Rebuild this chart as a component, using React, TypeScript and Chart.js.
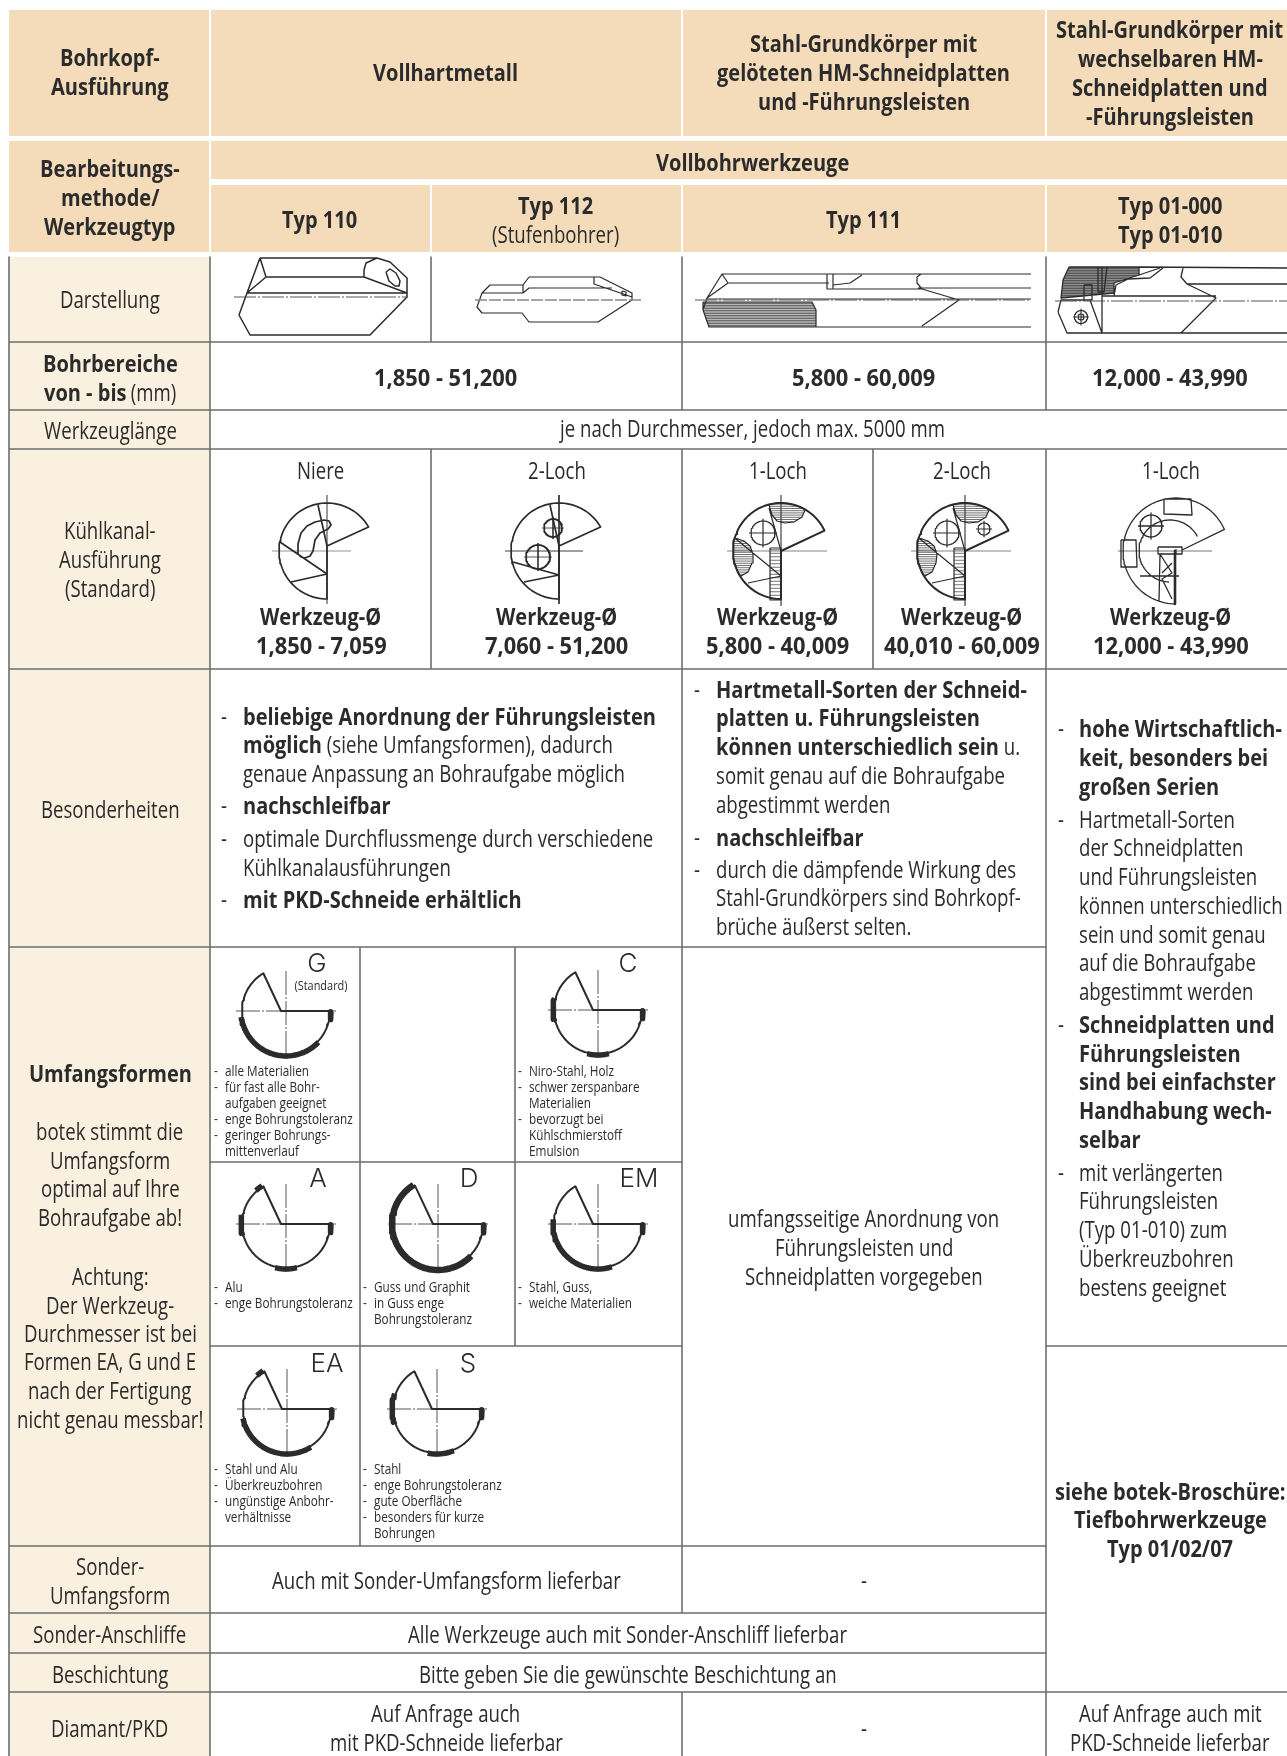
import React, { useEffect, useRef } from "react";
import { Chart, registerables } from "chart.js";
Chart.register(...registerables);

type Pt = [number, number];

// ---------- table structure ----------
const colEdges = [9, 210, 431, 682, 873, 1046, 1287];
const formColEdges = [360, 515];
const rowEdges = [257, 342, 410, 449, 669, 947, 1546, 1613, 1653, 1692, 1756];
const formRowEdges = [1162, 1346];

// ---------- text ----------
const headBohrkopf = ["Bohrkopf-", "Ausführung"];
const headVoll = ["Vollhartmetall"];
const headGeloetet = ["Stahl-Grundkörper mit", "gelöteten HM-Schneidplatten", "und -Führungsleisten"];
const headWechsel = ["Stahl-Grundkörper mit", "wechselbaren HM-", "Schneidplatten und", "-Führungsleisten"];
const headBearb = ["Bearbeitungs-", "methode/", "Werkzeugtyp"];
const headVollbohr = ["Vollbohrwerkzeuge"];
const typ110 = ["Typ 110"];
const typ112 = ["Typ 112"];
const typ112Sub = ["(Stufenbohrer)"];
const typ111 = ["Typ 111"];
const typ01 = ["Typ 01-000", "Typ 01-010"];
const labelDarstellung = ["Darstellung"];
const labelBereich = ["**Bohrbereiche**", "**von - bis** (mm)"];
const rangeValues = ["1,850 - 51,200", "5,800 - 60,009", "12,000 - 43,990"];
const labelLaenge = ["Werkzeuglänge"];
const laengeText = ["je nach Durchmesser, jedoch max. 5000 mm"];
const labelKuehl = ["Kühlkanal-", "Ausführung", "(Standard)"];
const kuehlTypes = ["Niere", "2-Loch", "1-Loch", "2-Loch", "1-Loch"];
const kuehlRanges = ["1,850 - 7,059", "7,060 - 51,200", "5,800 - 40,009", "40,010 - 60,009", "12,000 - 43,990"];
const labelBesonder = ["Besonderheiten"];
const besonderA = [
  "- **beliebige Anordnung der Führungsleisten**",
  "**möglich** (siehe Umfangsformen), dadurch",
  "genaue Anpassung an Bohraufgabe möglich",
  "- **nachschleifbar**",
  "- optimale Durchflussmenge durch verschiedene",
  "Kühlkanalausführungen",
  "- **mit PKD-Schneide erhältlich**",
];
const besonderB = [
  "- **Hartmetall-Sorten der Schneid-**",
  "**platten u. Führungsleisten**",
  "**können unterschiedlich sein** u.",
  "somit genau auf die Bohraufgabe",
  "abgestimmt werden",
  "- **nachschleifbar**",
  "- durch die dämpfende Wirkung des",
  "Stahl-Grundkörpers sind Bohrkopf-",
  "brüche äußerst selten.",
];
const besonderC = [
  "- **hohe Wirtschaftlich-**",
  "**keit, besonders bei**",
  "**großen Serien**",
  "- Hartmetall-Sorten",
  "der Schneidplatten",
  "und Führungsleisten",
  "können unterschiedlich",
  "sein und somit genau",
  "auf die Bohraufgabe",
  "abgestimmt werden",
  "- **Schneidplatten und**",
  "**Führungsleisten**",
  "**sind bei einfachster**",
  "**Handhabung wech-**",
  "**selbar**",
  "- mit verlängerten",
  "Führungsleisten",
  "(Typ 01-010) zum",
  "Überkreuzbohren",
  "bestens geeignet",
];
const labelUmfang = [
  "**Umfangsformen**",
  "botek stimmt die",
  "Umfangsform",
  "optimal auf Ihre",
  "Bohraufgabe ab!",
  "Achtung:",
  "Der Werkzeug-",
  "Durchmesser ist bei",
  "Formen EA, G und E",
  "nach der Fertigung",
  "nicht genau messbar!",
];
const formG = ["- alle Materialien", "- für fast alle Bohr-", "aufgaben geeignet", "- enge Bohrungstoleranz", "- geringer Bohrungs-", "mittenverlauf"];
const formC = ["- Niro-Stahl, Holz", "- schwer zerspanbare", "Materialien", "- bevorzugt bei", "Kühlschmierstoff", "Emulsion"];
const formA = ["- Alu", "- enge Bohrungstoleranz"];
const formD = ["- Guss und Graphit", "- in Guss enge", "Bohrungstoleranz"];
const formEM = ["- Stahl, Guss,", "- weiche Materialien"];
const formEA = ["- Stahl und Alu", "- Überkreuzbohren", "- ungünstige Anbohr-", "verhältnisse"];
const formS = ["- Stahl", "- enge Bohrungstoleranz", "- gute Oberfläche", "- besonders für kurze", "Bohrungen"];
const umfangMitte = ["umfangsseitige Anordnung von", "Führungsleisten und", "Schneidplatten vorgegeben"];
const siehe = ["siehe botek-Broschüre:", "Tiefbohrwerkzeuge", "Typ 01/02/07"];
const labelSonder = ["Sonder-", "Umfangsform"];
const sonderText = ["Auch mit Sonder-Umfangsform lieferbar"];
const labelAnschliff = ["Sonder-Anschliffe"];
const anschliffText = ["Alle Werkzeuge auch mit Sonder-Anschliff lieferbar"];
const labelBeschicht = ["Beschichtung"];
const beschichtText = ["Bitte geben Sie die gewünschte Beschichtung an"];
const labelDiamant = ["Diamant/PKD"];
const diamantA = ["Auf Anfrage auch", "mit PKD-Schneide lieferbar"];
const diamantB = ["Auf Anfrage auch mit", "PKD-Schneide lieferbar"];

// ---------- margin-form wear bands, in degrees round the drill section ----------
const bandsG: Pt[] = [[44, 172]];
const bandsC: Pt[] = [[165, 195], [76, 104]];
const bandsA: Pt[] = [[165, 192], [76, 104], [228, 238]];
const bandsD: Pt[] = [[44, 238]];
const bandsEM: Pt[] = [[72, 186]];
const bandsEA: Pt[] = [[58, 168], [228, 238]];
const bandsS: Pt[] = [[160, 200], [68, 102]];

// ---------- tool profiles ----------
const tool110Outline: Pt[] = [[260, 258], [377, 258], [390, 262], [407, 278], [407, 297], [370, 335], [250, 335], [239, 315], [247, 293], [260, 258]];
const tool110Inner: Pt[][] = [
  [[247, 293], [407, 293]],
  [[260, 258], [266, 277], [247, 293]],
  [[266, 277], [364, 277], [407, 293]],
  [[377, 258], [366, 263], [364, 270], [364, 277]],
  [[386, 272], [390, 269], [396, 273], [400, 281], [399, 286], [395, 286], [389, 281], [386, 272]],
];
const tool112Outline: Pt[] = [[529, 277], [600, 277], [632, 293], [632, 300], [598, 322], [529, 322], [522, 313], [482, 313], [477, 307], [482, 293], [490, 285], [523, 285], [529, 277]];
const tool112Inner: Pt[][] = [
  [[482, 293], [523, 293], [529, 288], [612, 288]],
  [[594, 277], [594, 284], [632, 297]],
  [[523, 285], [523, 293]],
  [[622, 291], [626, 292], [626, 296], [622, 295], [622, 291]],
];
const tool111Outline: Pt[] = [[1031, 274], [722, 274], [707, 298], [703, 310], [709, 327], [1031, 327]];
const tool111Inner: Pt[][] = [
  [[707, 299], [959, 299], [1031, 299]],
  [[728, 283], [829, 283]],
  [[827, 274], [827, 289], [833, 289], [833, 274]],
  [[833, 289], [922, 289], [959, 300], [922, 326]],
  [[722, 274], [728, 283], [707, 298]],
  [[833, 285], [850, 283], [862, 275]],
  [[922, 289], [917, 283], [917, 277], [921, 274]],
  [[918, 288], [1031, 288]],
];
const tool111Band: Pt[] = [[703, 302], [812, 302], [816, 310], [816, 327], [709, 327], [703, 310], [703, 302]];
const tool01Outline: Pt[][] = [
  [[1139, 267], [1287, 268]],
  [[1067, 333], [1287, 333]],
  [[1187, 284], [1287, 284]],
  [[1183, 268], [1181, 277], [1187, 284], [1216, 298], [1181, 333]],
  [[1102, 296], [1216, 296]],
  [[1102, 267], [1102, 333]],
  [[1058, 312], [1061, 300], [1090, 300], [1102, 333], [1067, 333], [1058, 312]],
  [[1139, 275], [1160, 268]],
  [[1114, 296], [1116, 285], [1128, 279], [1150, 278], [1163, 268]],
  [[1098, 267], [1098, 292], [1104, 292], [1107, 267]],
  [[1084, 285], [1092, 285], [1092, 300], [1084, 300], [1084, 285]],
];
const tool01Block: Pt[] = [[1069, 267], [1139, 267], [1139, 275], [1114, 283], [1114, 293], [1061, 298], [1063, 280], [1069, 267]];

// ---------- coolant sections, relative to the section centre ----------
const niereLines: Pt[][] = [
  [[-9, -46], [0, -5]],
  [[-47, -9], [0, 23]],
  [[-36, 31], [0, 23]],
];
const niereKidney: Pt[] = [[-29, 3], [-29, -7], [-26, -18], [-20, -25], [-12, -29], [-3, -31], [2, -30], [4, -26], [1, -22], [-7, -18], [-12, -11], [-14, 0], [-17, 5], [-22, 7], [-26, 6], [-29, 3]];
const loch2Lines: Pt[][] = [
  [[-9, -46], [0, -5]],
  [[-46, 11], [0, 24]],
  [[-35, 31], [0, 24]],
];
const loch1Lines: Pt[][] = [
  [[-12, -43], [0, 0]],
  [[-45, -12], [0, 25]],
  [[-33, 32], [0, 25]],
];
const lensTopInner: Pt[] = [[24, -41], [21, -34], [13, -29], [4, -28], [-4, -30], [-9, -36], [-12, -46]];
const lensLeftInner: Pt[] = [[-40, 25], [-33, 21], [-29, 12], [-28, 3], [-31, -5], [-37, -10], [-46, -13]];
const platteLines: Pt[][] = [
  [[-12, -52], [15, -52], [16, -36], [-12, -37], [-12, -52]],
  [[-55, -11], [-40, -11], [-39, 16], [-55, 16], [-55, -11]],
  [[-18, -4], [6, -4], [6, 3], [-18, 3], [-18, -4]],
  [[-16, 3], [-17, 50]],
  [[-16, 3], [-4, 22], [-14, 28], [-4, 48]],
  [[-4, 12], [-14, 22]],
  [[-36, 25], [3, 25]],
];
const platteBar: Pt[] = [[-1, 0], [-1, 53]];

// ---------- geometry helpers ----------
const arc = (cx: number, cy: number, r: number, a0: number, a1: number): Pt[] => {
  const out: Pt[] = [];
  const n = Math.max(2, Math.ceil(Math.abs(a1 - a0) / 3));
  for (let i = 0; i <= n; i++) {
    const a = ((a0 + ((a1 - a0) * i) / n) * Math.PI) / 180;
    out.push([cx + r * Math.cos(a), cy + r * Math.sin(a)]);
  }
  return out;
};
const shift = (p: Pt[], x: number, y: number): Pt[] => p.map(([a, b]) => [a + x, b + y] as Pt);

const INK = "#2b2b2b";
const GRID = "#6e6e6e";
const HEAD = "#f4dcba";
const SIDE = "#faf0e0";

type DS = any;
const stroke = (groups: Pt[][], width: number, color = INK, dash: number[] = []): DS => {
  const data: { x: number; y: number }[] = [];
  groups.forEach((g) => {
    g.forEach(([x, y]) => data.push({ x, y }));
    data.push({ x: NaN, y: NaN });
  });
  return { data, showLine: true, borderWidth: width, borderColor: color, borderDash: dash, pointRadius: 0, fill: false, tension: 0, spanGaps: false, borderCapStyle: "butt", borderJoinStyle: "round" };
};
const filled = (pts: Pt[], color: string): DS => ({
  data: pts.map(([x, y]) => ({ x, y })),
  showLine: true,
  borderWidth: 0,
  borderColor: "transparent",
  backgroundColor: color,
  pointRadius: 0,
  fill: "shape",
  tension: 0,
});
const rect = (x0: number, y0: number, x1: number, y1: number): Pt[] => [[x0, y0], [x1, y0], [x1, y1], [x0, y1], [x0, y0]];
const hatchRow = (pts: Pt[], step: number): Pt[][] => {
  const ys = pts.map((p) => p[1]);
  const out: Pt[][] = [];
  for (let y = Math.min(...ys) + step / 2; y < Math.max(...ys); y += step) {
    const xs: number[] = [];
    for (let i = 0; i + 1 < pts.length; i++) {
      const [ax, ay] = pts[i];
      const [bx, by] = pts[i + 1];
      if ((ay <= y && by > y) || (by <= y && ay > y)) xs.push(ax + ((y - ay) / (by - ay)) * (bx - ax));
    }
    if (xs.length >= 2) out.push([[Math.min(...xs), y], [Math.max(...xs), y]]);
  }
  return out;
};

const buildDatasets = (): DS[] => {
  const [c0, c1, c2, c3, c4, c5, c6] = colEdges;
  const [rD, rB, rW, rK, rS, rU, rSo, rAn, rBs, rDi, rEnd] = rowEdges;
  const [f1, f2] = formColEdges;
  const [u1, u2] = formRowEdges;
  const ds: DS[] = [];

  // header and side cells
  const headCells = [
    [c0, 10, c1 - 1, 136], [c1 + 1, 10, c3 - 1, 136], [c3 + 1, 10, c5 - 1, 136], [c5 + 1, 10, c6, 136],
    [c0, 141, c1 - 1, 252], [c1 + 1, 141, c6, 179],
    [c1 + 1, 185, c2 - 1, 252], [c2 + 1, 185, c3 - 1, 252], [c3 + 1, 185, c5 - 1, 252], [c5 + 1, 185, c6, 252],
  ];
  headCells.forEach(([a, b, c, d]) => ds.push(filled(rect(a, b, c, d), HEAD)));
  ds.push(filled(rect(c0, rD, c1, rEnd), SIDE));

  // grid
  const h = (y: number, a: number, b: number): Pt[] => [[a, y], [b, y]];
  const v = (x: number, a: number, b: number): Pt[] => [[x, a], [x, b]];
  ds.push(stroke([
    h(rB, c0, c6), h(rW, c0, c6), h(rK, c0, c6), h(rS, c0, c6),
    h(rU, c0, c5), h(rSo, c0, c5), h(rAn, c0, c5), h(rBs, c0, c5), h(rDi, c0, c6),
    h(u1, c1, c3), h(u2, c1, c3), h(u2, c5, c6),
    v(c0, rD, rEnd), v(c1, rD, rEnd), v(c2, rD, rB), v(c2, rK, rS),
    v(c3, rD, rW), v(c3, rK, rAn), v(c3, rDi, rEnd), v(c4, rK, rS),
    v(c5, rD, rW), v(c5, rK, rEnd), v(f1, rU, rSo), v(f2, rU, u2),
  ], 1.6, GRID));

  // tool profiles
  ds.push(stroke([tool110Outline, ...tool110Inner], 1.5));
  ds.push(stroke([[[234, 297], [408, 297]]], 1, "#555", [22, 2, 2, 2]));
  ds.push(stroke([tool112Outline, ...tool112Inner], 1.2));
  ds.push(stroke([[[475, 300], [643, 300]]], 1.5, "#888", [12, 2]));
  ds.push(filled(tool111Band, "#b8b8b8"));
  ds.push(stroke(hatchRow(tool111Band, 2.5), 1, "#555"));
  ds.push(stroke([tool111Outline, ...tool111Inner, tool111Band], 1.2));
  ds.push(stroke([[[695, 300], [1031, 300]]], 1, "#555", [22, 2, 2, 2]));
  ds.push(filled(tool01Block, "#8f8f8f"));
  ds.push(stroke(hatchRow(tool01Block, 2.5), 1, "#444"));
  ds.push(stroke([...tool01Outline, tool01Block], 1.3));
  ds.push(stroke([[[1055, 301], [1287, 301]]], 1, "#555", [22, 2, 2, 2]));
  ds.push(stroke([arc(1081, 317, 6.5, 0, 360), arc(1081, 317, 3, 0, 360), [[1073, 317], [1089, 317]], [[1081, 309], [1081, 325]]], 1.1));

  // coolant sections
  const axes = (x: number, y: number, a: number, b: number, c: number, d: number, col = INK) =>
    stroke([[[x + a, y], [x + b, y]], [[x, y + c], [x, y + d]]], 0.9, col);
  const cy = 551;
  const cross = (x: number, y: number, r: number): Pt[][] => [arc(x, y, r, 0, 360), [[x - r - 2, y], [x + r + 2, y]], [[x, y - r - 2], [x, y + r + 2]]];

  // Niere
  const n = 327;
  ds.push(axes(n, cy, -55, 24, -56, 53, "#888"));
  ds.push(stroke([[...arc(n, cy, 48, 90, 330), [n, cy - 5], [n, cy + 48]], ...niereLines.map((l) => shift(l, n, cy)), shift(niereKidney, n, cy)], 1.7));
  // 2-Loch
  const l2 = 559;
  ds.push(axes(l2, cy, -54, 24, -56, 53));
  ds.push(stroke([[...arc(l2, cy, 48, 90, 330), [l2, cy - 5], [l2, cy + 48]], ...loch2Lines.map((l) => shift(l, l2, cy)), arc(l2 - 6, cy - 23, 9, 0, 360), arc(l2 - 21, cy + 6, 12, 0, 360)], 1.7));
  ds.push(stroke([...cross(l2 - 6, cy - 23, 9), ...cross(l2 - 21, cy + 6, 12)], 0.8));
  // 1-Loch and 2-Loch, Typ 111
  [781, 965].forEach((x, i) => {
    const top: Pt[] = [...arc(x, cy, 48, 255, 300), ...shift(lensTopInner, x, cy)];
    const left: Pt[] = [...arc(x, cy, 48, 195, 148), ...shift(lensLeftInner, x, cy)];
    const bar = rect(x - 11, cy - 3, x, cy + 49);
    ds.push(axes(x, cy, -54, 46, -56, 55, "#777"));
    ds.push(stroke([...hatchRow(top, 2.2), ...hatchRow(left, 2.2), ...hatchRow(bar, 3.5)], 0.7, "#333"));
    ds.push(stroke([top, left, bar, ...loch1Lines.map((l) => shift(l, x, cy))], 1.2));
    ds.push(stroke([[...arc(x, cy, 48, 90, 335), [x, cy], [x, cy + 48]]], 2));
    ds.push(stroke(cross(x - 18, cy - 18, 12), 1.2));
    if (i === 1) ds.push(stroke(cross(x + 19, cy - 22, 6), 1.1));
  });
  // 1-Loch, Typ 01
  const p = 1176;
  ds.push(axes(p, cy, -58, 36, -2, 2, "#666"));
  ds.push(stroke([[...arc(p, cy, 53, 90, 336), [p + 6, cy - 1]], arc(p - 6, cy, 31, 92, 332), ...platteLines.map((l) => shift(l, p, cy)), ...cross(p - 25, cy - 25, 11)], 1.3));
  ds.push(stroke([shift(platteBar, p, cy)], 2.6));

  // margin forms
  const form = (x: number, y: number, r: number, bands: Pt[], w = 5.5) => {
    ds.push(stroke([[[x - 50, y], [x + 50, y]], [[x, y - 40], [x, y + 50]]], 0.9, "#444", [24, 2, 2, 2]));
    ds.push(stroke([[...arc(x, y, r, 0, 239), [x - 5, y], [x + r + 2, y]]], 2));
    ds.push(stroke([arc(x, y, r + 1, 1, 11)], 5.5));
    bands.forEach(([a, b]) => ds.push(stroke([arc(x, y, r + 1, a, b)], w)));
  };
  form(286, 1011, 44, bandsG);
  form(598, 1010, 44, bandsC);
  form(286, 1224, 44, bandsA);
  form(438, 1224, 45, bandsD, 6.5);
  form(598, 1224, 44, bandsEM);
  form(287, 1409, 44, bandsEA);
  form(437, 1409, 44, bandsS);

  // earlier entries sit beneath later ones
  return ds.reverse();
};

// ---------- text placement ----------
type Item = { text: string; x: number; y: number; size: number; bold?: boolean; left?: boolean; sx?: number };
const items: Item[] = [];
const REG_SX = 0.81;
const BOLD_SX = 0.87;
const DIGIT_SX = 0.95;
const REG = 23;
const SM = 14.5;

const centre = (lines: string[], x: number, ys: number[], size = REG, bold = false, sx?: number) =>
  lines.forEach((t, i) => items.push({ text: t, x, y: ys[i], size, bold, sx }));
const bullets = (lines: string[], dashX: number, textX: number, ys: number[], size = REG) =>
  lines.forEach((t, i) => {
    const has = t.startsWith("- ");
    if (has) items.push({ text: "-", x: dashX, y: ys[i], size, left: true });
    items.push({ text: has ? t.slice(2) : t, x: textX, y: ys[i], size, left: true });
  });

centre(headBohrkopf, 110, [65, 94], REG, true);
centre(headVoll, 446, [80], REG, true);
centre(headGeloetet, 864, [51, 80, 109], REG, true);
centre(headWechsel, 1170, [37, 66, 95, 124], REG, true);
centre(headBearb, 110, [176, 205, 234], REG, true);
centre(headVollbohr, 753, [170], REG, true);
centre(typ110, 320, [227], REG, true);
centre(typ112, 556, [213], REG, true);
centre(typ112Sub, 556, [242]);
centre(typ111, 864, [227], REG, true);
centre(typ01, 1170, [213, 242], REG, true);
centre(labelDarstellung, 110, [307]);
centre(labelBereich, 110, [371, 400]);
centre([rangeValues[0]], 446, [385], REG, true, DIGIT_SX);
centre([rangeValues[1]], 864, [385], REG, true, DIGIT_SX);
centre([rangeValues[2]], 1170, [385], REG, true, DIGIT_SX);
centre(labelLaenge, 110, [438]);
centre(laengeText, 753, [436]);
centre(labelKuehl, 110, [538, 567, 596]);
[321, 557, 778, 962, 1171].forEach((x, i) => {
  centre([kuehlTypes[i]], x, [478]);
  centre(["Werkzeug-Ø"], x, [624], REG, true);
  centre([kuehlRanges[i]], x, [653], REG, true, DIGIT_SX);
});
centre(labelBesonder, 110, [817]);
bullets(besonderA, 221, 243, [724, 752, 781, 813, 846, 875, 907]);
bullets(besonderB, 694, 716, [697, 725, 754, 783, 812, 845, 877, 905, 934]);
bullets(besonderC, 1058, 1079, [736, 765, 794, 827, 855, 884, 913, 942, 970, 999, 1032, 1061, 1089, 1118, 1147, 1180, 1208, 1237, 1266, 1295]);
centre(labelUmfang, 110, [1081, 1139, 1168, 1196, 1225, 1284, 1313, 1341, 1369, 1398, 1427]);
bullets(formG, 214, 225, [1076, 1092, 1108, 1124, 1140, 1156], SM);
bullets(formC, 518, 529, [1076, 1092, 1108, 1124, 1140, 1156], SM);
bullets(formA, 214, 225, [1292, 1308], SM);
bullets(formD, 363, 374, [1292, 1308, 1324], SM);
bullets(formEM, 518, 529, [1292, 1308], SM);
bullets(formEA, 214, 225, [1474, 1490, 1506, 1522], SM);
bullets(formS, 363, 374, [1474, 1490, 1506, 1522, 1538], SM);
centre(umfangMitte, 864, [1226, 1255, 1284]);
centre(siehe, 1170, [1499, 1527, 1556], REG, true);
centre(labelSonder, 110, [1574, 1603]);
centre(sonderText, 446, [1588]);
centre(["-"], 864, [1588]);
centre(labelAnschliff, 110, [1642]);
centre(anschliffText, 628, [1642]);
centre(labelBeschicht, 110, [1682]);
centre(beschichtText, 628, [1682]);
centre(labelDiamant, 110, [1736]);
centre(diamantA, 446, [1721, 1750]);
centre(["-"], 864, [1736]);
centre(diamantB, 1170, [1721, 1750]);

const formLetters: [string, number, number, number][] = [
  ["G", 317, 973, 26], ["C", 628, 973, 26], ["A", 318, 1188, 26], ["D", 469, 1188, 26], ["EM", 639, 1188, 26], ["EA", 327, 1373, 26], ["S", 468, 1373, 26],
];

// Splits a marked-up line into separately scaled runs, so that mixed weights keep their own widths.
type Run = { s: string; x: number; y: number; size: number; bold: boolean; sx: number };
const layoutRuns = (): Run[] => {
  const ctx = document.createElement("canvas").getContext("2d")!;
  const runs: Run[] = [];
  items.forEach((it) => {
    const segs = it.text
      .split("**")
      .map((s, i) => ({ s, bold: !!it.bold || i % 2 === 1 }))
      .filter((g) => g.s.length > 0)
      .map((g) => {
        ctx.font = `${g.bold ? 700 : 400} ${it.size}px 'Open Sans'`;
        const sx = it.sx ?? (g.bold ? BOLD_SX : REG_SX);
        return { ...g, sx, w: ctx.measureText(g.s).width * sx };
      });
    const total = segs.reduce((a, g) => a + g.w, 0);
    let x = it.left ? it.x : it.x - total / 2;
    segs.forEach((g) => {
      runs.push({ s: g.s, x, y: it.y, size: it.size, bold: g.bold, sx: g.sx });
      x += g.w;
    });
  });
  return runs;
};

export default function App() {
  const ref = useRef<HTMLCanvasElement>(null);
  useEffect(() => {
    if (!ref.current) return;
    const chart = new Chart(ref.current, {
      type: "scatter",
      data: { datasets: buildDatasets() },
      options: {
        animation: false,
        responsive: false,
        devicePixelRatio: 1,
        layout: { padding: 0 },
        plugins: { legend: { display: false }, tooltip: { enabled: false }, title: { display: false } },
        scales: {
          x: { type: "linear", min: 0, max: 1287, display: false },
          y: { type: "linear", min: 0, max: 1756, reverse: true, display: false },
        },
      },
    } as any);
    return () => chart.destroy();
  }, []);

  return (
    <div style={{ position: "absolute", left: 0, top: 0, width: 1287, height: 1756, overflow: "hidden", background: "#fff", fontFamily: "'Open Sans', sans-serif", color: INK }}>
      <canvas ref={ref} width={1287} height={1756} style={{ position: "absolute", left: 0, top: 0, width: 1287, height: 1756 }} />
      {layoutRuns().map((r, i) => (
        <div
          key={i}
          style={{
            position: "absolute",
            left: r.x,
            top: r.y - r.size * 0.888 + 1,
            fontSize: r.size,
            lineHeight: `${r.size}px`,
            fontWeight: r.bold ? 700 : 400,
            whiteSpace: "pre",
            transformOrigin: "0 50%",
            transform: `scaleX(${r.sx})`,
          }}
        >
          {r.s}
        </div>
      ))}
      {formLetters.map(([t, x, y, s]) => (
        <div key={t} style={{ position: "absolute", left: x, top: y - s * 0.888, fontSize: s, lineHeight: `${s}px`, fontWeight: 300, transform: "translateX(-50%)", fontFamily: "'Inter', sans-serif", whiteSpace: "nowrap" }}>{t}</div>
      ))}
      <div style={{ position: "absolute", left: 321, top: 990 - 12, fontSize: 13.5, lineHeight: "14px", whiteSpace: "nowrap", transform: `translateX(-50%) scaleX(${REG_SX})` }}>(Standard)</div>
    </div>
  );
}
